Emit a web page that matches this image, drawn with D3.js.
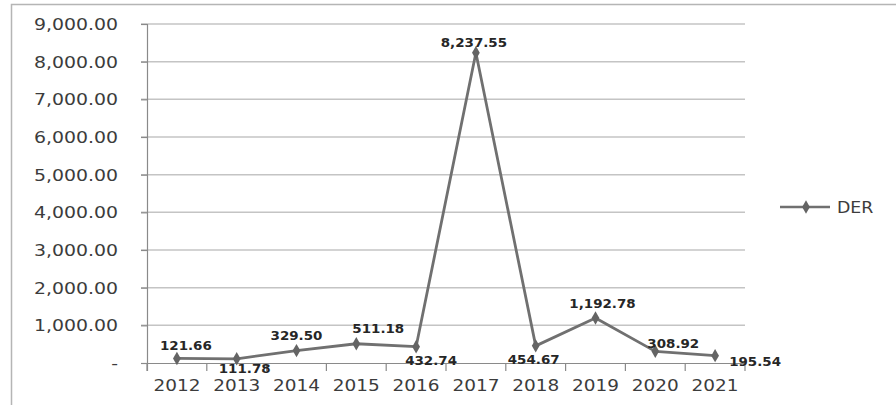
<!DOCTYPE html>
<html>
<head>
<meta charset="utf-8">
<script src="https://cdn.jsdelivr.net/npm/d3@7/dist/d3.min.js"></script>
<style>
  html, body { margin: 0; padding: 0; background: #fff; }
  svg { display: block; }
  text { font-family: "DejaVu Sans", Verdana, sans-serif; }
</style>
</head>
<body>
<svg id="chart" width="896" height="405"></svg>
<script>
// DER by year
const years = ["2012", "2013", "2014", "2015", "2016", "2017", "2018", "2019", "2020", "2021"];
const derValues = [121.66, 111.78, 329.50, 511.18, 432.74, 8237.55, 454.67, 1192.78, 308.92, 195.54];
const yTicks = [0, 1000, 2000, 3000, 4000, 5000, 6000, 7000, 8000, 9000];
const seriesName = "DER";

// where each value label sits relative to its marker (dx, dy in px)
const labelPlacement = [
  [9, -8], [8, 14], [0, -11], [22, -11], [15, 18],
  [-2, -6], [-2, 18], [7, -10], [18, -3], [40, 10]
];

const svg = d3.select("#chart");
const W = 896, H = 405;
const margin = { left: 147, right: 151, top: 24, bottom: 42 };
const plotW = W - margin.left - margin.right;
const plotH = H - margin.top - margin.bottom;

const lineColor = "#707070";
const gridColor = "#c4c4c4";
const axisColor = "#8a8a8a";
const textColor = "#3c3c3c";
const stretch = 1.12;

// outer frame (left and top edges)
svg.append("path")
  .attr("d", `M11.5,${H} V4.5 H${W}`)
  .attr("fill", "none")
  .attr("stroke", "#b5b5b5")
  .attr("stroke-width", 1.5);

const g = svg.append("g").attr("transform", `translate(${margin.left},${margin.top})`);

const x = d3.scaleBand().domain(years).range([0, plotW]).padding(0);
const y = d3.scaleLinear().domain([0, 9000]).range([plotH, 0]);

const fmt = d3.format(",.2f");

// horizontal gridlines
g.append("g")
  .selectAll("line")
  .data(yTicks.filter(d => d > 0))
  .join("line")
  .attr("x1", -6).attr("x2", plotW)
  .attr("y1", d => y(d)).attr("y2", d => y(d))
  .attr("stroke", gridColor)
  .attr("stroke-width", 1.5);

// y axis
const yAxis = g.append("g")
  .call(d3.axisLeft(y).tickValues(yTicks).tickSize(6).tickPadding(0).tickFormat(() => ""));
yAxis.select(".domain").attr("stroke", axisColor).attr("stroke-width", 1.2)
  .attr("d", `M-6,0.5H0.5V${plotH + 8}`);
yAxis.selectAll(".tick line").attr("stroke", axisColor).attr("stroke-width", 1.2);

// y tick labels, slightly widened
g.append("g")
  .selectAll("text")
  .data(yTicks)
  .join("text")
  .attr("transform", d => `translate(-29,${y(d) + 6}) scale(1.18,1)`)
  .attr("text-anchor", "end")
  .attr("font-size", 16)
  .attr("fill", textColor)
  .text(d => d === 0 ? "-" : fmt(d));

// x axis
const xAxis = g.append("g")
  .attr("transform", `translate(0,${plotH})`)
  .call(d3.axisBottom(x).tickSize(0).tickFormat(() => ""));
xAxis.select(".domain").attr("stroke", axisColor).attr("stroke-width", 1.2)
  .attr("d", `M-6,0.5H${plotW}`);
xAxis.selectAll(".tick").remove();

// category boundary ticks
const bounds = years.map(d => x(d)).concat([plotW]);
xAxis.selectAll("line.bound")
  .data(bounds)
  .join("line")
  .attr("class", "bound")
  .attr("x1", d => d).attr("x2", d => d)
  .attr("y1", 0).attr("y2", 8)
  .attr("stroke", axisColor)
  .attr("stroke-width", 1.2);

// x tick labels
xAxis.selectAll("text.cat")
  .data(years)
  .join("text")
  .attr("class", "cat")
  .attr("transform", d => `translate(${x(d) + x.bandwidth() / 2},${28}) scale(${stretch},1)`)
  .attr("text-anchor", "middle")
  .attr("font-size", 16.5)
  .attr("fill", textColor)
  .text(d => d);

// series line
const pts = years.map((yr, i) => ({ yr, v: derValues[i], i }));
const line = d3.line()
  .x(d => x(d.yr) + x.bandwidth() / 2)
  .y(d => y(d.v));

g.append("path")
  .datum(pts)
  .attr("d", line)
  .attr("fill", "none")
  .attr("stroke", lineColor)
  .attr("stroke-width", 2.8)
  .attr("stroke-linejoin", "round");

// diamond markers
const diamond = d3.symbol().type(d3.symbolDiamond).size(52);
g.append("g")
  .selectAll("path")
  .data(pts)
  .join("path")
  .attr("d", diamond)
  .attr("transform", d => `translate(${x(d.yr) + x.bandwidth() / 2},${y(d.v)})`)
  .attr("fill", "#646464");

// value labels
g.append("g")
  .selectAll("text")
  .data(pts)
  .join("text")
  .attr("transform", d => {
    const [dx, dy] = labelPlacement[d.i];
    return `translate(${x(d.yr) + x.bandwidth() / 2 + dx},${y(d.v) + dy}) scale(1.17,1)`;
  })
  .attr("text-anchor", "middle")
  .attr("font-size", 11.5)
  .attr("font-weight", "bold")
  .attr("fill", "#262626")
  .text(d => fmt(d.v));

// legend
const leg = svg.append("g").attr("transform", "translate(780,207)");
leg.append("line")
  .attr("x1", 0).attr("x2", 50)
  .attr("y1", 0).attr("y2", 0)
  .attr("stroke", lineColor)
  .attr("stroke-width", 2.4);
leg.append("path")
  .attr("d", diamond)
  .attr("transform", "translate(26,0)")
  .attr("fill", "#646464");
leg.append("text")
  .attr("transform", `translate(57,6) scale(${stretch},1)`)
  .attr("font-size", 15.5)
  .attr("fill", textColor)
  .text(seriesName);
</script>
</body>
</html>
